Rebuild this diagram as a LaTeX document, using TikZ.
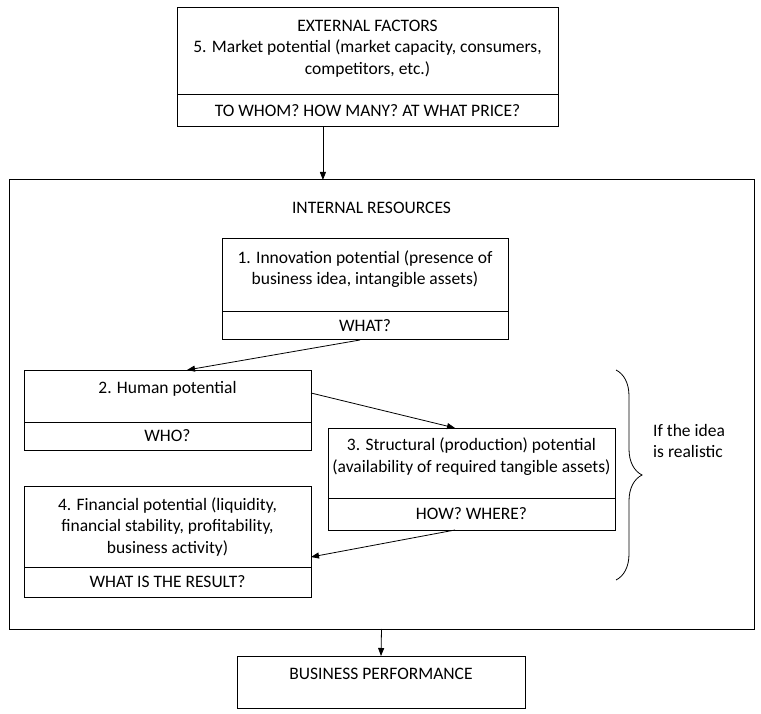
\documentclass[tikz,border=0pt]{standalone}
\usepackage{fontspec}
\setmainfont{Carlito}
\usetikzlibrary{arrows.meta,positioning,calc,decorations.pathreplacing}

\begin{document}
\begin{tikzpicture}[
  x=1pt, y=-1pt,
  part/.style={rectangle, draw, line width=1pt, inner sep=0pt, outer sep=0pt, font=\fontsize{17.5}{21.5}\selectfont, align=center},
  txt/.style={font=\fontsize{17.5}{21.5}\selectfont, align=center, inner sep=0pt},
  arr/.style={-{Triangle[length=8pt,width=6pt]}, line width=0.8pt},
  node distance=0pt
]
  \useasboundingbox (0,0) rectangle (761,714);

  % external factors
  \node[part, minimum width=381pt, minimum height=87pt] (ExtFact) at (367.5,51.5) {};
  \node[part, minimum width=381pt, minimum height=32pt, below=of ExtFact] (ExtQ) {TO WHOM? HOW MANY? AT WHAT PRICE?};
  \node[txt, below=11.5pt of ExtFact.north] (ExtTxt) {EXTERNAL FACTORS\\5. Market potential (market capacity, consumers,\\competitors, etc.)};

  % internal resources
  \node[part, minimum width=745pt, minimum height=449pt] (IntRes) at (381.5,404.5) {};
  \node[txt, below=22pt of IntRes.north, xshift=-10pt] (IntTxt) {INTERNAL RESOURCES};

  \node[part, minimum width=286pt, minimum height=73pt] (Innov) at (365,275.5) {};
  \node[part, minimum width=286pt, minimum height=28pt, below=of Innov] (InnovQ) {WHAT?};
  \node[txt, below=11.5pt of Innov.north] (InnovTxt) {1. Innovation potential (presence of\\business idea, intangible assets)};

  \node[part, minimum width=287pt, minimum height=52pt] (Human) at (167.5,396) {};
  \node[part, minimum width=287pt, minimum height=28pt, below=of Human] (HumanQ) {WHO?};
  \node[txt, below=11.5pt of Human.north] (HumanTxt) {2. Human potential};

  \node[part, minimum width=287pt, minimum height=70pt] (Struct) at (471.5,463) {};
  \node[part, minimum width=287pt, minimum height=32pt, below=of Struct] (StructQ) {HOW? WHERE?};
  \node[txt, below=9.5pt of Struct.north] (StructTxt) {3. Structural (production) potential\\(availability of required tangible assets)};

  \node[part, minimum width=287pt, minimum height=81pt] (Fin) at (167.5,526.5) {};
  \node[part, minimum width=287pt, minimum height=30pt, below=of Fin] (FinQ) {WHAT IS THE RESULT?};
  \node[txt, below=11.5pt of Fin.north] (FinTxt) {4. Financial potential (liquidity,\\financial stability, profitability,\\business activity)};

  % result
  \node[part, minimum width=288pt, minimum height=52pt] (Perf) at (381,682) {};
  \node[txt, below=11.5pt of Perf.north] (PerfTxt) {BUSINESS PERFORMANCE};

  % brace
  \draw[line width=0.8pt, decorate, decoration={brace, amplitude=26pt}] (616,370) -- (616,580);
  \node[txt, align=left, anchor=west] (Real) at (653,441) {If the idea\\is realistic};

  % links
  \coordinate (ExtOut) at ($(ExtQ.south west)!0.383!(ExtQ.south east)$);
  \draw[arr] (ExtOut) -- (ExtOut |- IntRes.north);
  \draw[arr] (IntRes.south) -- (Perf.north);
  \draw[arr] ([xshift=-5pt]InnovQ.south) -- ([xshift=19.5pt]Human.north);
  \draw[arr] ([yshift=3pt]Human.east) -- ([xshift=-16.5pt]Struct.north);
  \draw[arr] ([xshift=-16.5pt]StructQ.south) -- ([yshift=-30.5pt]Fin.east);
\end{tikzpicture}
\end{document}
